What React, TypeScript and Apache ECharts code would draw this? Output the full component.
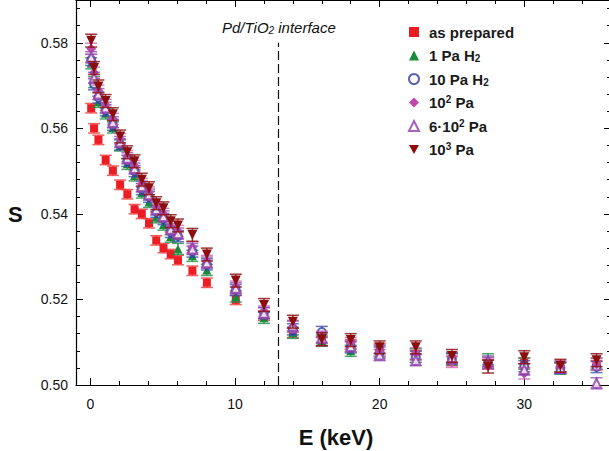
import React, { useEffect, useRef } from 'react';
import * as echarts from 'echarts';

// Implantation energy (keV)
const energies = [0.05, 0.25, 0.55, 1.05, 1.55, 2.05, 2.55, 3.05, 3.55, 4.05, 4.55, 5.05, 5.55, 6.05, 7.05, 8.05, 10.05, 12, 14, 16, 18, 20, 22.5, 25, 27.5, 30, 32.5, 35];

// S parameter for each sample
const sAsPrepared = [0.5647, 0.5600, 0.5573, 0.5526, 0.5501, 0.5468, 0.5446, 0.5411, 0.5400, 0.5378, 0.5338, 0.5320, 0.5306, 0.5292, 0.5267, 0.5239, 0.5199, 0.5162, 0.5122, 0.5102, 0.5095, 0.5086, 0.5070, 0.5056, 0.5048, 0.5052, 0.5042, 0.5046];
const s1PaH2 = [0.5752, 0.5708, 0.5662, 0.5635, 0.5602, 0.5560, 0.5517, 0.5490, 0.5450, 0.5428, 0.5392, 0.5375, 0.5347, 0.5318, 0.5302, 0.5269, 0.5207, 0.5157, 0.5122, 0.5104, 0.5080, 0.5080, 0.5072, 0.5060, 0.5060, 0.5050, 0.5038, 0.5050];
const s10PaH2 = [0.5760, 0.5703, 0.5672, 0.5642, 0.5608, 0.5562, 0.5524, 0.5500, 0.5458, 0.5440, 0.5405, 0.5388, 0.5358, 0.5348, 0.5312, 0.5282, 0.5222, 0.5168, 0.5130, 0.5124, 0.5088, 0.5076, 0.5066, 0.5062, 0.5052, 0.5044, 0.5040, 0.5042];
const s1e2Pa = [0.5786, 0.5730, 0.5688, 0.5655, 0.5622, 0.5575, 0.5535, 0.5512, 0.5470, 0.5450, 0.5416, 0.5400, 0.5370, 0.5360, 0.5322, 0.5290, 0.5230, 0.5172, 0.5136, 0.5113, 0.5098, 0.5080, 0.5074, 0.5054, 0.5050, 0.5027, 0.5044, 0.5049];
const s6e2Pa = [0.5766, 0.5718, 0.5680, 0.5648, 0.5614, 0.5568, 0.5530, 0.5506, 0.5464, 0.5445, 0.5410, 0.5394, 0.5364, 0.5354, 0.5318, 0.5286, 0.5226, 0.5168, 0.5138, 0.5110, 0.5090, 0.5070, 0.5058, 0.5064, 0.5055, 0.5036, 0.5040, 0.5004];
const s1e3Pa = [0.5805, 0.5741, 0.5698, 0.5664, 0.5633, 0.5581, 0.5544, 0.5523, 0.5480, 0.5460, 0.5425, 0.5413, 0.5383, 0.5373, 0.5351, 0.5305, 0.5244, 0.5187, 0.5148, 0.5107, 0.5105, 0.5088, 0.5088, 0.5068, 0.5043, 0.5065, 0.5045, 0.5058];

// Error bar half-heights per sample
const sErrors = [0.0011, 0.0013, 0.0013, 0.0013, 0.0013, 0.0015];

const seriesNames = ['as prepared', '1 Pa H2', '10 Pa H2', '10^2 Pa', '6·10^2 Pa', '10^3 Pa'];
const legendLabels = ['as prepared', '1 Pa H{sub|2}', '10 Pa H{sub|2}', '10{sup|2} Pa', '6·10{sup|2} Pa', '10{sup|3} Pa'];

const interfaceE = 13;
const interfaceTop = 0.58;

const xMin = -1, xMax = 36;
const yMin = 0.5, yMax = 0.59;

const FONT = "'Liberation Sans', Arial, Helvetica, sans-serif";

const INV_TRIANGLE = 'path://M0,0L10,0L5,9Z';

const styles = [
  { symbol: 'rect', size: 8, color: '#ec1c24', err: 'rgba(236,40,40,0.75)', hollow: false },
  { symbol: 'triangle', size: 9, color: '#178a3c', err: 'rgba(30,140,70,0.8)', hollow: false },
  { symbol: 'emptyCircle', size: 8, color: '#2e3d9e', err: 'rgba(50,70,170,0.75)', hollow: true },
  { symbol: 'diamond', size: 10, color: '#c04aaa', err: 'rgba(200,90,180,0.75)', hollow: false },
  { symbol: 'emptyTriangle', size: 9, color: '#8c3fa6', err: 'rgba(140,70,170,0.75)', hollow: true },
  { symbol: INV_TRIANGLE, size: 10, color: '#8b0d0d', err: 'rgba(140,20,20,0.85)', hollow: false },
];

const allValues = [sAsPrepared, s1PaH2, s10PaH2, s1e2Pa, s6e2Pa, s1e3Pa];

export default function App() {
  const ref = useRef<HTMLDivElement>(null);
  useEffect(() => {
    if (!ref.current) return;
    const chart = echarts.init(ref.current, null, { renderer: 'svg' });

    const series: any[] = [];
    allValues.forEach((vals, si) => {
      const st = styles[si];
      const err = sErrors[si];
      series.push({
        type: 'custom',
        name: 'err-' + si,
        xAxisIndex: 0,
        yAxisIndex: 0,
        silent: true,
        z: 2 + si * 2,
        encode: { x: 0, y: 1 },
        data: energies.map((e, i) => [e, vals[i], err]),
        renderItem: (params: any, api: any) => {
          const x = api.value(0), y = api.value(1), d = api.value(2);
          const top = api.coord([x, y + d]);
          const bot = api.coord([x, y - d]);
          const hw = 6;
          const ls = { stroke: st.err, lineWidth: 1.5 };
          return {
            type: 'group',
            children: [
              { type: 'line', shape: { x1: top[0], y1: top[1], x2: bot[0], y2: bot[1] }, style: ls },
              { type: 'line', shape: { x1: top[0] - hw, y1: top[1], x2: top[0] + hw, y2: top[1] }, style: ls },
              { type: 'line', shape: { x1: bot[0] - hw, y1: bot[1], x2: bot[0] + hw, y2: bot[1] }, style: ls },
            ],
          };
        },
      });
      const sc: any = {
        type: 'scatter',
        name: seriesNames[si],
        xAxisIndex: 0,
        yAxisIndex: 0,
        z: 3 + si * 2,
        symbol: st.symbol,
        symbolSize: st.size,
        itemStyle: st.hollow
          ? { color: st.color, borderColor: st.color, borderWidth: 1.4 }
          : { color: st.color, opacity: 1 },
        data: energies.map((e, i) => [e, vals[i]]),
      };
      if (si === 0) {
        sc.markLine = {
          silent: true,
          symbol: ['none', 'none'],
          label: { show: false },
          lineStyle: { type: [9, 4], color: '#111', width: 1.2 },
          data: [[{ coord: [interfaceE, yMin] }, { coord: [interfaceE, interfaceTop] }]],
        };
      }
      series.push(sc);
    });

    const xBase = {
      type: 'value', min: xMin, max: xMax, splitLine: { show: false },
    };
    const yBase = {
      type: 'value', min: yMin, max: yMax, splitLine: { show: false },
    };
    const lineOn = { show: true, onZero: false, lineStyle: { color: '#000', width: 1.2 } };
    const lineOff = { show: false, onZero: false };
    const minorTick = { show: true, inside: true, length: 4, lineStyle: { color: '#000', width: 1 } };
    const majorTick = { show: true, inside: true, length: 7, lineStyle: { color: '#000', width: 1 } };

    const option: any = {
      animation: false,
      backgroundColor: '#fff',
      grid: { left: 76, top: 0, right: -2, bottom: 66, containLabel: false, outerBoundsMode: 'none' },
      xAxis: [
        {
          ...xBase, position: 'bottom', minInterval: 2, maxInterval: 2,
          axisLine: lineOn, axisTick: minorTick,
          axisLabel: {
            show: true, margin: 12, fontSize: 14, color: '#111', fontFamily: FONT,
            formatter: (v: number) => (v >= 0 && Math.abs(v % 10) < 1e-9 ? String(v) : ''),
          },
        },
        { ...xBase, position: 'bottom', minInterval: 10, maxInterval: 10, axisLine: lineOff, axisTick: majorTick, axisLabel: { show: false } },
        { ...xBase, position: 'top', minInterval: 2, maxInterval: 2, axisLine: lineOn, axisTick: minorTick, axisLabel: { show: false } },
        { ...xBase, position: 'top', minInterval: 10, maxInterval: 10, axisLine: lineOff, axisTick: majorTick, axisLabel: { show: false } },
      ],
      yAxis: [
        {
          ...yBase, position: 'left', interval: 0.004,
          axisLine: lineOn, axisTick: minorTick,
          axisLabel: {
            show: true, margin: 8, fontSize: 14, color: '#111', fontFamily: FONT,
            formatter: (v: number) => {
              const k = v / 0.02;
              return Math.abs(k - Math.round(k)) < 1e-6 && v < 0.589 ? v.toFixed(2) : '';
            },
          },
        },
        { ...yBase, position: 'left', interval: 0.02, axisLine: lineOff, axisTick: majorTick, axisLabel: { show: false } },
        { ...yBase, position: 'right', interval: 0.004, axisLine: lineOn, axisTick: minorTick, axisLabel: { show: false } },
        { ...yBase, position: 'right', interval: 0.02, axisLine: lineOff, axisTick: majorTick, axisLabel: { show: false } },
      ],
      legend: {
        orient: 'vertical',
        left: 403,
        top: 19,
        itemWidth: 10,
        itemHeight: 10,
        itemGap: 7.5,
        data: seriesNames,
        selectedMode: false,
        formatter: (name: string) => legendLabels[seriesNames.indexOf(name)],
        textStyle: {
          fontFamily: FONT, fontSize: 15, fontWeight: 'bold', color: '#1a1a1a', lineHeight: 16,
          padding: [0, 0, 0, 5],
          rich: {
            sub: { fontFamily: FONT, fontSize: 10, fontWeight: 'bold', color: '#1a1a1a', lineHeight: 9, verticalAlign: 'bottom' },
            sup: { fontFamily: FONT, fontSize: 10, fontWeight: 'bold', color: '#1a1a1a', lineHeight: 8, verticalAlign: 'top' },
          },
        },
      },
      graphic: [
        {
          type: 'text', left: 8, top: 203,
          style: { text: 'S', font: `bold 22px ${FONT}`, fill: '#111' },
        },
        {
          type: 'text', x: 336, y: 437,
          style: { text: 'E (keV)', font: `bold 22px ${FONT}`, fill: '#111', textAlign: 'center', textVerticalAlign: 'middle' },
        },
        {
          type: 'text', left: 222, top: 20,
          style: {
            text: 'Pd/TiO{sub|2} interface',
            font: `italic 15px ${FONT}`,
            fill: '#111',
            rich: {
              sub: { fontFamily: FONT, fontStyle: 'italic', fontSize: 10, fill: '#111', lineHeight: 9, verticalAlign: 'bottom' },
            },
          },
        },
      ],
      series,
    };
    chart.setOption(option);
    return () => chart.dispose();
  }, []);

  return (
    <div
      ref={ref}
      style={{ position: 'fixed', left: 0, top: 0, width: 609, height: 451, background: '#fff' }}
    />
  );
}
